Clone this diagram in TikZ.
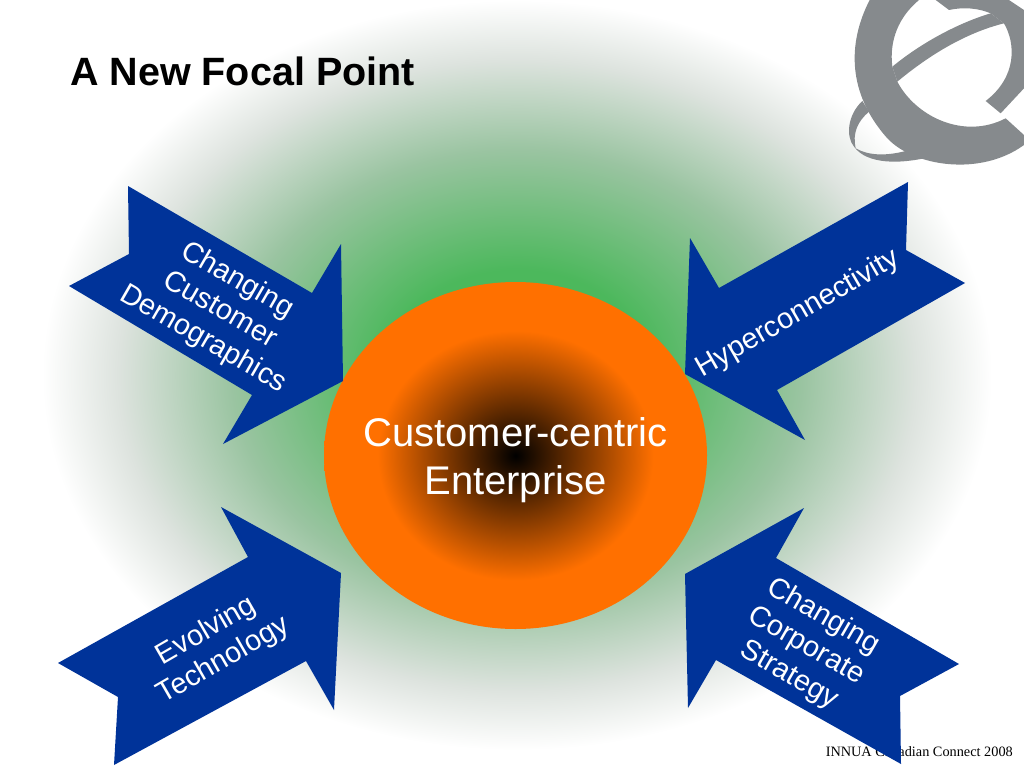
\documentclass[tikz,border=0pt]{standalone}
\usepackage{xcolor}
\usepackage{fontspec}
\setmainfont{Liberation Sans}
\newfontfamily\footfont{Liberation Serif}
\usetikzlibrary{shapes.geometric}
\definecolor{FPBlue}{HTML}{003399}
\definecolor{FPGreen}{HTML}{4CB85C}
\definecolor{FPSage}{HTML}{9AC4A1}
\definecolor{FPAsh}{HTML}{DDE3DE}
\definecolor{FPOrange}{HTML}{FF7000}
\definecolor{FPGray}{HTML}{868A8D}
\pgfdeclareradialshading{fpglow}{\pgfpoint{0bp}{0bp}}{color(0bp)=(FPGreen); color(7bp)=(FPGreen); color(15bp)=(FPSage); color(21bp)=(FPAsh); color(25bp)=(white); color(50bp)=(white)}
\pgfdeclareradialshading{fpcore}{\pgfpoint{0bp}{0bp}}{color(0bp)=(black); color(18bp)=(FPOrange); color(50bp)=(FPOrange)}
\tikzset{
  fparrow/.style={fill=FPBlue},
  fplabel/.style={text=white,align=center,font=\fontsize{29}{34}\selectfont},
  fplogo/.style={fill=FPGray}
}
\begin{document}
\begin{tikzpicture}[x=1pt,y=-1pt]
\path[use as bounding box] (0,0) rectangle (1024,768);
\clip (0,0) rectangle (1024,768);
\fill[white] (0,0) rectangle (1024,768);
% backdrop
\path[shading=fpglow] (517,375) ellipse [x radius=475,y radius=375];
% logo
\begin{scope}[shift={(824,0)},x=.3333pt,y=-.3333pt]
\fill[fplogo] (137,0) .. controls (70,130) and (70,280) .. (190,415) .. controls (270,500) and (470,530) .. (600,435) -- (600,405) -- (545,355) .. controls (420,420) and (275,350) .. (220,245) -- (205,200) .. controls (195,120) and (225,50) .. (285,0) -- cycle;
\fill[fplogo] (205,200) .. controls (290,130) and (400,70) .. (500,40) -- (540,70) .. controls (420,100) and (310,170) .. (220,245) -- cycle;
\fill[fplogo] (335,0) -- (375,30) .. controls (420,20) and (465,25) .. (500,40) -- (540,70) .. controls (575,130) and (580,230) .. (485,303) -- (530,340) -- (600,265) -- (600,30) -- (555,0) -- cycle;
\fill[fplogo] (115,303) .. controls (70,345) and (65,410) .. (90,440) .. controls (130,495) and (230,490) .. (300,475) -- (245,453) .. controls (180,470) and (130,465) .. (95,445) .. controls (85,400) and (100,365) .. (135,335) -- cycle;
\end{scope}
% title and footer
\node[anchor=base west,inner sep=0pt,font=\bfseries\fontsize{39.5}{46}\selectfont] (title) at (70,85) {A New Focal Point};
\node[anchor=base east,inner sep=0pt,font=\footfont\fontsize{14.3}{17}\selectfont] (footer) at (1013,756) {INNUA Canadian Connect 2008};
% centre
\node[ellipse,shading=fpcore,minimum width=383pt,minimum height=347pt,inner sep=0pt,outer sep=0pt] (core) at (515.5,455.5) {};
\node[text=white,align=center,font=\fontsize{40}{48}\selectfont] (corelabel) at (515.5,460) {Customer-centric\\Enterprise};
% arrows
\fill[fparrow] (128,186) -- (312,293) -- (341,244) -- (343,381) -- (223,444) -- (252,395) -- (69,286) -- (129,254) -- cycle;
\fill[fparrow] (908,182) -- (906,250) -- (965,283) -- (777,390) -- (805,440) -- (685,374) -- (690,238) -- (719,288) -- cycle;
\fill[fparrow] (221,507) -- (341,573) -- (334,710) -- (306,661) -- (114,765) -- (118,697) -- (58,663) -- (248,557) -- cycle;
\fill[fparrow] (804,508) -- (776,558) -- (959,664) -- (900,696) -- (901,764) -- (716,660) -- (688,708) -- (685,574) -- cycle;
\node[fplabel,rotate=-30] (demographics) at (220,310) {Changing\\Customer\\Demographics};
\node[fplabel,rotate=30] (hyper) at (798,314) {Hyperconnectivity};
\node[fplabel,rotate=30] (technology) at (215,646) {Evolving\\Technology};
\node[fplabel,rotate=-30] (strategy) at (806,646) {Changing\\Corporate\\Strategy};
\end{tikzpicture}
\end{document}
